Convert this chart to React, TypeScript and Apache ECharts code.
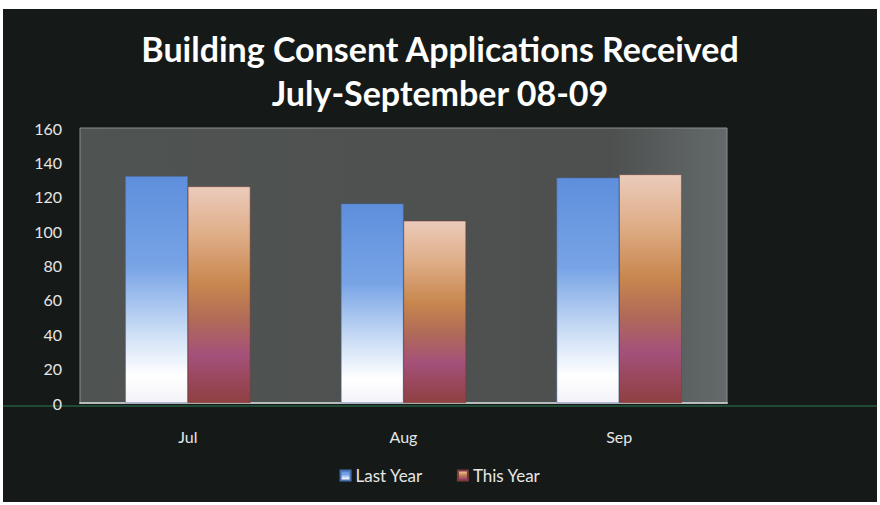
import React, { useEffect, useRef } from "react";
import * as echarts from "echarts";

const categories = ["Jul", "Aug", "Sep"];
const lastYear = [132, 116, 131];
const thisYear = [126, 106, 133];
const seriesNames = ["Last Year", "This Year"];
const titleLines = ["Building Consent Applications Received", "July-September 08-09"];

const FONT = "Lato, 'Open Sans', sans-serif";

export default function App() {
  const ref = useRef<HTMLDivElement>(null);
  useEffect(() => {
    document.body.style.margin = "0";
    const chart = echarts.init(ref.current!, null, { renderer: "svg" });
    const blueGrad = new echarts.graphic.LinearGradient(0, 0, 0, 1, [
      { offset: 0, color: "#5e8fdc" },
      { offset: 0.4, color: "#78a4e6" },
      { offset: 0.7, color: "#cfe0f6" },
      { offset: 0.88, color: "#ffffff" },
      { offset: 1, color: "#f4f2f8" },
    ]);
    const peachGrad = new echarts.graphic.LinearGradient(0, 0, 0, 1, [
      { offset: 0, color: "#ebcbbb" },
      { offset: 0.22, color: "#dfae88" },
      { offset: 0.45, color: "#c8874e" },
      { offset: 0.62, color: "#b06a58" },
      { offset: 0.78, color: "#a4507a" },
      { offset: 1, color: "#8e4040" },
    ]);
    const plotGrad = new echarts.graphic.LinearGradient(0, 0, 1, 0, [
      { offset: 0, color: "#4f5351" },
      { offset: 0.82, color: "#4d504f" },
      { offset: 1, color: "#646a6b" },
    ]);
    chart.setOption({
      animation: false,
      backgroundColor: "#ffffff",
      graphic: [
        { type: "rect", shape: { x: 3, y: 9, width: 874, height: 493 }, style: { fill: "#151a18" }, z: -10 },
        { type: "line", shape: { x1: 3, y1: 406, x2: 877, y2: 406 }, style: { stroke: "#1f4a33", lineWidth: 2 }, z: -5 },
      ],
      title: {
        text: titleLines.join("\n"),
        left: "center",
        top: 21,
        textStyle: { color: "#ffffff", fontFamily: FONT, fontWeight: "bold", fontSize: 34, lineHeight: 44 },
      },
      legend: {
        data: seriesNames,
        bottom: 16,
        left: "center",
        itemWidth: 10,
        itemHeight: 10,
        itemGap: 34,
        icon: "rect",
        textStyle: { color: "#e6e6e6", fontFamily: FONT, fontSize: 17 },
      },
      grid: { left: 80, right: 153, top: 128, bottom: 102, show: true, backgroundColor: plotGrad, borderColor: "#8a8f8e", borderWidth: 1 },
      xAxis: {
        type: "category",
        data: categories,
        axisLine: { lineStyle: { color: "#b8bcbc", width: 2 } },
        axisTick: { show: false },
        axisLabel: { color: "#e6e6e6", fontFamily: FONT, fontSize: 16, margin: 25 },
      },
      yAxis: {
        type: "value",
        min: 0,
        max: 160,
        interval: 20,
        splitLine: { show: false },
        axisLine: { show: false },
        axisTick: { show: false },
        axisLabel: { color: "#e6e6e6", fontFamily: FONT, fontSize: 16, margin: 18 },
      },
      series: [
        {
          name: seriesNames[0],
          type: "bar",
          data: lastYear,
          barGap: "0%",
          barCategoryGap: "42%",
          itemStyle: { color: blueGrad, borderColor: "#4a6fae", borderWidth: 0.5 },
        },
        {
          name: seriesNames[1],
          type: "bar",
          data: thisYear,
          itemStyle: { color: peachGrad, borderColor: "#7a3a3a", borderWidth: 0.5 },
        },
      ],
    });
    return () => chart.dispose();
  }, []);
  return <div ref={ref} style={{ width: 880, height: 505 }} />;
}
